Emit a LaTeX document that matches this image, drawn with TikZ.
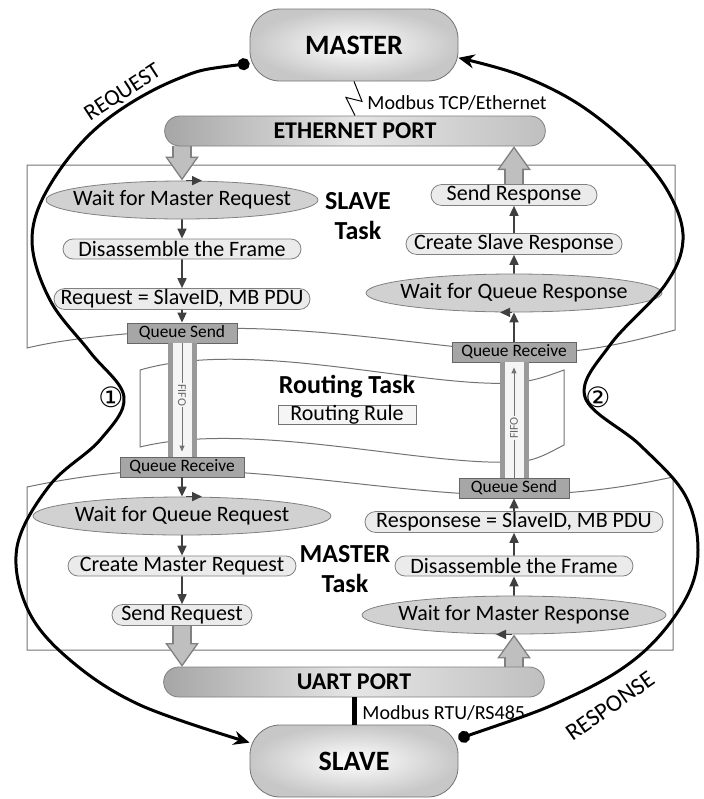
\documentclass[tikz,border=0pt]{standalone}
\usepackage{fontspec}
\setmainfont{Carlito}
\newfontfamily\symfont{DejaVu Sans}
\usetikzlibrary{arrows.meta,shapes.geometric,shapes.misc,calc}

% grey block arrow: outline pass, then fill pass
\newcommand{\blockarrow}[2]{%
  \draw[black!50, line width=10pt, -{Triangle[length=12pt,width=16pt]}] #1 -- #2;
  \draw[black!25, line width=8.4pt, shorten >=1.3pt, -{Triangle[length=10pt,width=13.4pt]}] #1 -- #2;}

\begin{document}
\begin{tikzpicture}[x=0.5pt,y=-0.5pt,
    flow/.style={draw=black!75, line width=0.8pt, -{Triangle[length=5pt,width=4.5pt]}},
    waitnode/.style={ellipse, draw=black!50, fill=black!18, minimum height=19pt, inner sep=0pt,
      label={[font=\fontsize{11}{13}\selectfont]center:#1}},
    stepnode/.style={rounded rectangle, draw=black!50, fill=black!8, minimum height=10pt,
      inner xsep=1pt, inner ysep=0.5pt, font=\fontsize{11}{12}\selectfont},
    queuenode/.style={rectangle, draw=black!60, fill=black!35, minimum width=55pt, minimum height=10pt,
      inner sep=0pt, font=\fontsize{8.7}{10}\selectfont},
    devnode/.style={rectangle, rounded corners=15pt, draw=black!55, inner color=white, outer color=black!22,
      minimum width=104pt, minimum height=36pt, font=\fontsize{14}{16}\selectfont\bfseries},
    portnode/.style={rounded rectangle, draw=black!50, left color=black!35, right color=black!25,
      middle color=black!10, minimum width=197pt, minimum height=15pt, font=\fontsize{12}{14}\selectfont\bfseries},
    tasklbl/.style={align=center, font=\fontsize{13}{15}\selectfont\bfseries},
    taskbox/.style={draw=black!55, line width=0.5pt},
    fiforail/.style={draw=black!40, line width=2.5pt},
    fifolbl/.style={fill=black!4, inner sep=0.5pt, text=black!60, font=\fontsize{6}{7}\selectfont},
    link/.style={black, line width=1.5pt, {Circle[length=6pt]}-{Stealth[length=8pt,width=7pt]}},
    lbl/.style={font=\fontsize{10}{12}\selectfont, inner sep=1pt},
  ]
\useasboundingbox (0,0) rectangle (704,799);

% task frames
\draw[taskbox] (27,165) -- (675,165) -- (675,330)
  .. controls (620,345) and (570,356) .. (514,352)
  .. controls (420,346) and (300,322) .. (182,330)
  .. controls (110,334) and (60,340) .. (27,348) -- cycle;
\draw[taskbox] (140,370) .. controls (250,338) and (420,388) .. (514,383)
  .. controls (535,381) and (550,375) .. (564,370) -- (564,445)
  .. controls (550,452) and (535,462) .. (514,462)
  .. controls (420,466) and (250,420) .. (140,447) -- cycle;
\draw[taskbox] (27,487) .. controls (70,478) and (120,470) .. (182,470)
  .. controls (300,472) and (420,496) .. (514,495)
  .. controls (590,494) and (640,484) .. (673,477) -- (673,650) -- (27,650) -- cycle;

% devices
\node[devnode] (master) at (354,45) {MASTER};
\node[devnode] (slave) at (354,761) {SLAVE};

% SLAVE task
\node[waitnode={Wait for Master Request}, minimum width=136pt] (wmreq) at (182,200) {};
\node[stepnode, minimum width=121pt] (disfrm) at (182,249) {Disassemble the Frame};
\node[stepnode, minimum width=130pt] (reqpdu) at (182,299) {Request = SlaveID, MB PDU};
\node[queuenode] (qsnd) at (182,333) {Queue Send};
\node[stepnode, minimum width=85pt] (sndresp) at (514,195) {Send Response};
\node[stepnode, minimum width=110pt] (crtresp) at (514,244) {Create Slave Response};
\node[waitnode={Wait for Queue Response}, minimum width=148pt] (wqresp) at (514,293) {};
\node[queuenode, minimum width=62pt] (qrcv) at (514,352) {Queue Receive};
\node[tasklbl] (slavetask) at (358,216) {SLAVE\\Task};

% routing task
\node[queuenode, minimum width=62pt] (qrcvb) at (182,467) {Queue Receive};
\node[queuenode] (qsndb) at (514,488) {Queue Send};
\node[tasklbl] (routtask) at (347,387) {Routing Task};
\node[draw=black!55, fill=black!4, minimum width=69pt, minimum height=9.5pt, inner sep=0pt,
  font=\fontsize{11}{12}\selectfont] (rrule) at (347,415) {Routing Rule};

% FIFOs
\fill[black!4] ($(qsnd.south)+(-14,0)$) rectangle ($(qrcvb.north)+(14,0)$);
\draw[fiforail] ($(qsnd.south)+(-12,0)$) -- ($(qrcvb.north)+(-12,0)$);
\draw[fiforail] ($(qsnd.south)+(12,0)$) -- ($(qrcvb.north)+(12,0)$);
\draw[black!55, line width=0.5pt, -{Triangle[length=3pt,width=2.5pt]}] (qsnd.south) -- ($(qrcvb.north)+(0,-5)$);
\node[fifolbl, rotate=-90] (fifoa) at (182,395) {FIFO};
\fill[black!4] ($(qsndb.north)+(-14,0)$) rectangle ($(qrcv.south)+(14,0)$);
\draw[fiforail] ($(qsndb.north)+(-12,0)$) -- ($(qrcv.south)+(-12,0)$);
\draw[fiforail] ($(qsndb.north)+(12,0)$) -- ($(qrcv.south)+(12,0)$);
\draw[black!55, line width=0.5pt, -{Triangle[length=3pt,width=2.5pt]}] (qsndb.north) -- ($(qrcv.south)+(0,5)$);
\node[fifolbl, rotate=90] (fifob) at (514,428) {FIFO};

% MASTER task
\node[waitnode={Wait for Queue Request}, minimum width=149pt] (wqreq) at (182,516) {};
\node[stepnode, minimum width=116pt] (crtreq) at (182,566) {Create Master Request};
\node[stepnode, minimum width=72pt] (sndreq) at (182,615) {Send Request};
\node[stepnode, minimum width=151pt] (respdu) at (514,522) {Responsese = SlaveID, MB PDU};
\node[stepnode, minimum width=121pt] (disfrmb) at (514,566) {Disassemble the Frame};
\node[waitnode={Wait for Master Response}, minimum width=152pt] (wmresp) at (514,615) {};
\node[tasklbl] (mastertask) at (345,569) {MASTER\\Task};

% flow inside the tasks
\draw[flow] (wmreq) -- (disfrm);
\draw[flow] (disfrm) -- (reqpdu);
\draw[flow] (reqpdu) -- (qsnd);
\draw[flow] (qrcv) -- (wqresp);
\draw[flow] (wqresp) -- (crtresp);
\draw[flow] (crtresp) -- (sndresp);
\draw[flow] (qrcvb) -- (wqreq);
\draw[flow] (wqreq) -- (crtreq);
\draw[flow] (crtreq) -- (sndreq);
\draw[flow] (wmresp) -- (disfrmb);
\draw[flow] (disfrmb) -- (respdu);
\draw[flow] (respdu) -- (qsndb);
% waiting loops
\draw[flow] ($(wmreq.north)+(4,0)$) -- ($(wmreq.north)+(20,0)$);
\draw[flow] ($(wqreq.north)+(4,0)$) -- ($(wqreq.north)+(20,0)$);
\draw[flow] ($(wqresp.south)+(-2,0)$) -- ($(wqresp.south)+(-14,0)$);
\draw[flow] ($(wmresp.south)+(-2,0)$) -- ($(wmresp.south)+(-18,0)$);

% ports and transfers
\coordinate (ethtop) at (355,116);
\coordinate (ethbot) at (355,146);
\coordinate (uarttop) at (354,667);
\blockarrow{(ethbot -| wmreq.north)}{(wmreq.north)}
\blockarrow{(sndresp.north)}{(ethbot -| sndresp.north)}
\blockarrow{(sndreq.south)}{(uarttop -| sndreq.south)}
\blockarrow{(uarttop -| wmresp.south)}{(wmresp.south)}
\node[portnode] (eth) at (355,131) {ETHERNET PORT};
\node[portnode] (uart) at (354,682) {UART PORT};

% buses
\draw[black, line width=0.5pt] (master.south) -- ++(8,20) -- ++(-16,-4) -- (eth.north);
\node[lbl, anchor=west] (tcp) at (365,103) {Modbus TCP/Ethernet};
\draw[black, line width=2.5pt] (uart.south) -- (slave.north);
\node[lbl, anchor=west] (rtu) at (360,713) {Modbus RTU/RS485};

% request / response paths
\draw[link] plot[smooth, tension=0.6] coordinates {(master.190) (175,80) (100,125) (50,185) (32,240)
  (50,300) (90,352) (124,397) (100,440) (50,485) (17,547) (28,610) (70,660) (140,705) (slave.170)};
\draw[link] plot[smooth, tension=0.6] coordinates {(slave.12) (570,697) (640,655) (685,600) (698,550)
  (685,495) (640,445) (585,397) (610,345) (665,285) (683,240) (670,195) (635,150) (580,105) (520,75) (master.353)};
\node[font=\fontsize{11.5}{14}\selectfont, rotate=33, inner sep=0pt] (req) at (123,93) {REQUEST};
\node[font=\fontsize{12}{14}\selectfont, rotate=35, inner sep=0pt] (resp) at (610,706) {RESPONSE};
\node[font=\symfont\fontsize{14}{16}\selectfont, inner sep=0pt] (one) at (111,397) {①};
\node[font=\symfont\fontsize{14}{16}\selectfont, inner sep=0pt] (two) at (598,397) {②};
\end{tikzpicture}
\end{document}
